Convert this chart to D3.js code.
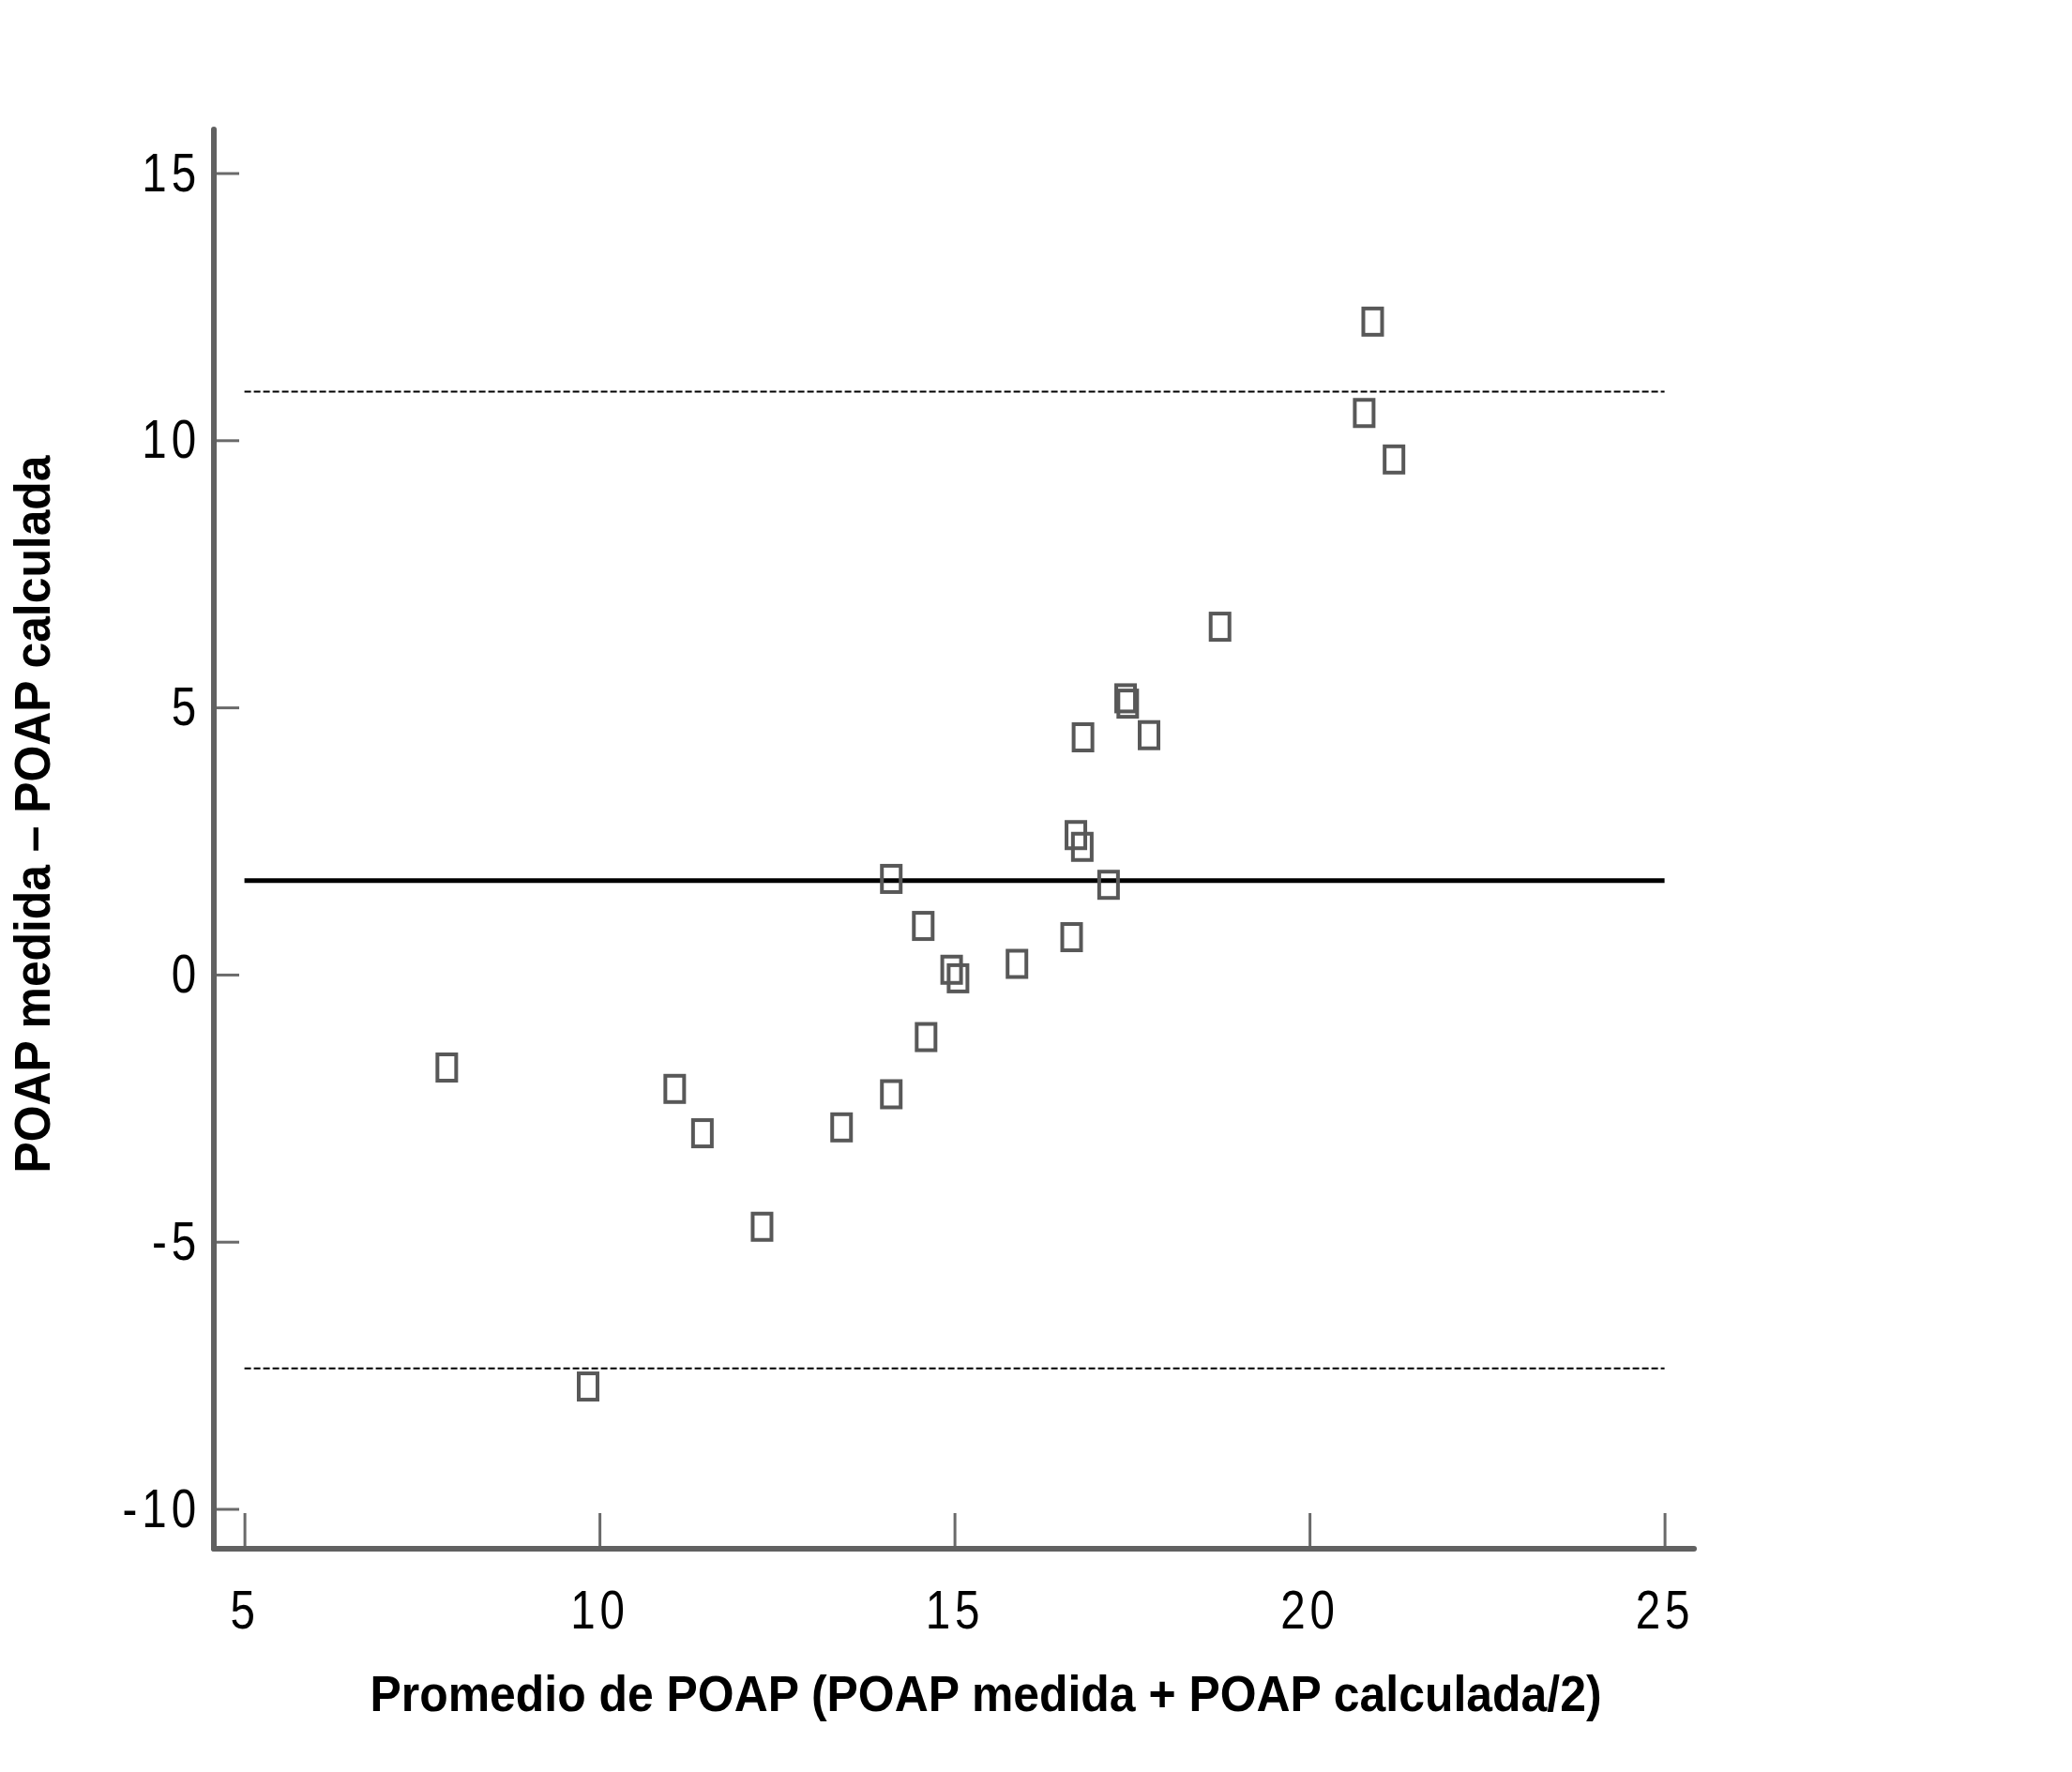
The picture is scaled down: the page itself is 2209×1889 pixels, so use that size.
<!DOCTYPE html>
<html>
<head>
<meta charset="utf-8">
<script src="https://cdn.jsdelivr.net/npm/d3@7"></script>
<style>
  html, body { margin: 0; padding: 0; background: #ffffff; }
  svg { display: block; }
</style>
</head>
<body>
<svg id="chart" width="2209" height="1889"></svg>
<script>
// ---- data ----
const xValues = [7.85, 9.84, 11.06, 11.45, 12.29, 13.41, 14.11, 14.11, 14.56, 14.60,
                 14.96, 15.05, 15.88, 16.65, 16.71, 16.80, 16.81, 17.17, 17.41, 17.44,
                 17.74, 18.74, 20.77, 20.89, 21.19];
const yValues = [-1.74, -7.71, -2.14, -2.97, -4.72, -2.86, -2.24, 1.79, 0.91, -1.17,
                 0.09, -0.07, 0.20, 0.70, 2.61, 2.39, 4.44, 1.68, 5.17, 5.07,
                 4.48, 6.51, 10.51, 12.22, 9.64];
const meanDiff = 1.76;
const upperLimit = 10.91;
const lowerLimit = -7.37;
const xTicks = [5, 10, 15, 20, 25];
const yTicks = [-10, -5, 0, 5, 10, 15];
const xTitle = "Promedio de POAP (POAP medida + POAP calculada/2)";
const yTitle = "POAP medida \u2013 POAP calculada";

const points = xValues.map((x, i) => ({ x, y: yValues[i] }));

// ---- layout ----
const svg = d3.select("#chart");
const axisX0 = 228, axisY0 = 1651;
const x = d3.scaleLinear().domain([5, 25]).range([260.6, 1774.6]);
const y = d3.scaleLinear().domain([-10, 15]).range([1608.5, 184.5]);

const axisColor = "#616161";
const tickColor = "#6a6a6a";
const labelFont = "'Liberation Sans', Arial, sans-serif";
const titleFont = "'Liberation Sans', Arial, sans-serif";
const narrow = 0.82;

// reference lines
const refG = svg.append("g");
refG.append("line")
  .attr("x1", x(5)).attr("x2", x(25))
  .attr("y1", y(upperLimit)).attr("y2", y(upperLimit))
  .attr("stroke", "#000").attr("stroke-width", 2).attr("stroke-dasharray", "7,3");
refG.append("line")
  .attr("x1", x(5)).attr("x2", x(25))
  .attr("y1", y(lowerLimit)).attr("y2", y(lowerLimit))
  .attr("stroke", "#000").attr("stroke-width", 2).attr("stroke-dasharray", "7,3");
refG.append("line")
  .attr("x1", x(5)).attr("x2", x(25))
  .attr("y1", y(meanDiff)).attr("y2", y(meanDiff))
  .attr("stroke", "#000").attr("stroke-width", 5);

// markers
const mw = 20, mh = 28;
svg.append("g").selectAll("rect")
  .data(points)
  .join("rect")
  .attr("x", d => x(d.x) - mw / 2)
  .attr("y", d => y(d.y) - mh / 2)
  .attr("width", mw)
  .attr("height", mh)
  .attr("fill", "none")
  .attr("stroke", "#585858")
  .attr("stroke-width", 4);

const fmt = d => String(d);

// y axis
const yPad = 14;
const yAxis = d3.axisLeft(y).tickValues(yTicks).tickSizeInner(-27).tickSizeOuter(0).tickPadding(yPad)
  .tickFormat(fmt);
const yG = svg.append("g").attr("transform", `translate(${axisX0},0)`).call(yAxis);
yG.select(".domain").remove();
yG.selectAll(".tick line").attr("stroke", tickColor).attr("stroke-width", 3);
yG.selectAll(".tick text")
  .attr("fill", "#000")
  .attr("transform", `translate(${-yPad},0) scale(${narrow},1) translate(${yPad},0)`)
  .style("font-family", labelFont)
  .style("font-size", "58px")
  .style("letter-spacing", "6px");

// x axis
const xAxis = d3.axisBottom(x).tickValues(xTicks).tickSizeInner(-38).tickSizeOuter(0).tickPadding(44)
  .tickFormat(fmt);
const xG = svg.append("g").attr("transform", `translate(0,${axisY0})`).call(xAxis);
xG.select(".domain").remove();
xG.selectAll(".tick line").attr("stroke", tickColor).attr("stroke-width", 3);
xG.selectAll(".tick text")
  .attr("fill", "#000")
  .attr("transform", `scale(${narrow},1)`)
  .style("font-family", labelFont)
  .style("font-size", "58px")
  .style("letter-spacing", "6px");

// axis lines
svg.append("line")
  .attr("x1", axisX0).attr("x2", axisX0)
  .attr("y1", 138).attr("y2", axisY0)
  .attr("stroke", axisColor).attr("stroke-width", 6).attr("stroke-linecap", "round");
svg.append("line")
  .attr("x1", axisX0).attr("x2", 1806)
  .attr("y1", axisY0).attr("y2", axisY0)
  .attr("stroke", axisColor).attr("stroke-width", 6).attr("stroke-linecap", "round");

// titles
svg.append("text")
  .attr("x", 1051).attr("y", 1824)
  .attr("text-anchor", "middle")
  .attr("textLength", 1313).attr("lengthAdjust", "spacingAndGlyphs")
  .style("font-family", titleFont).style("font-weight", "bold").style("font-size", "54px")
  .attr("fill", "#000")
  .text(xTitle);

svg.append("text")
  .attr("transform", "translate(53,868) rotate(-90)")
  .attr("text-anchor", "middle")
  .attr("textLength", 765).attr("lengthAdjust", "spacingAndGlyphs")
  .style("font-family", titleFont).style("font-weight", "bold").style("font-size", "54px")
  .attr("fill", "#000")
  .text(yTitle);
</script>
</body>
</html>
